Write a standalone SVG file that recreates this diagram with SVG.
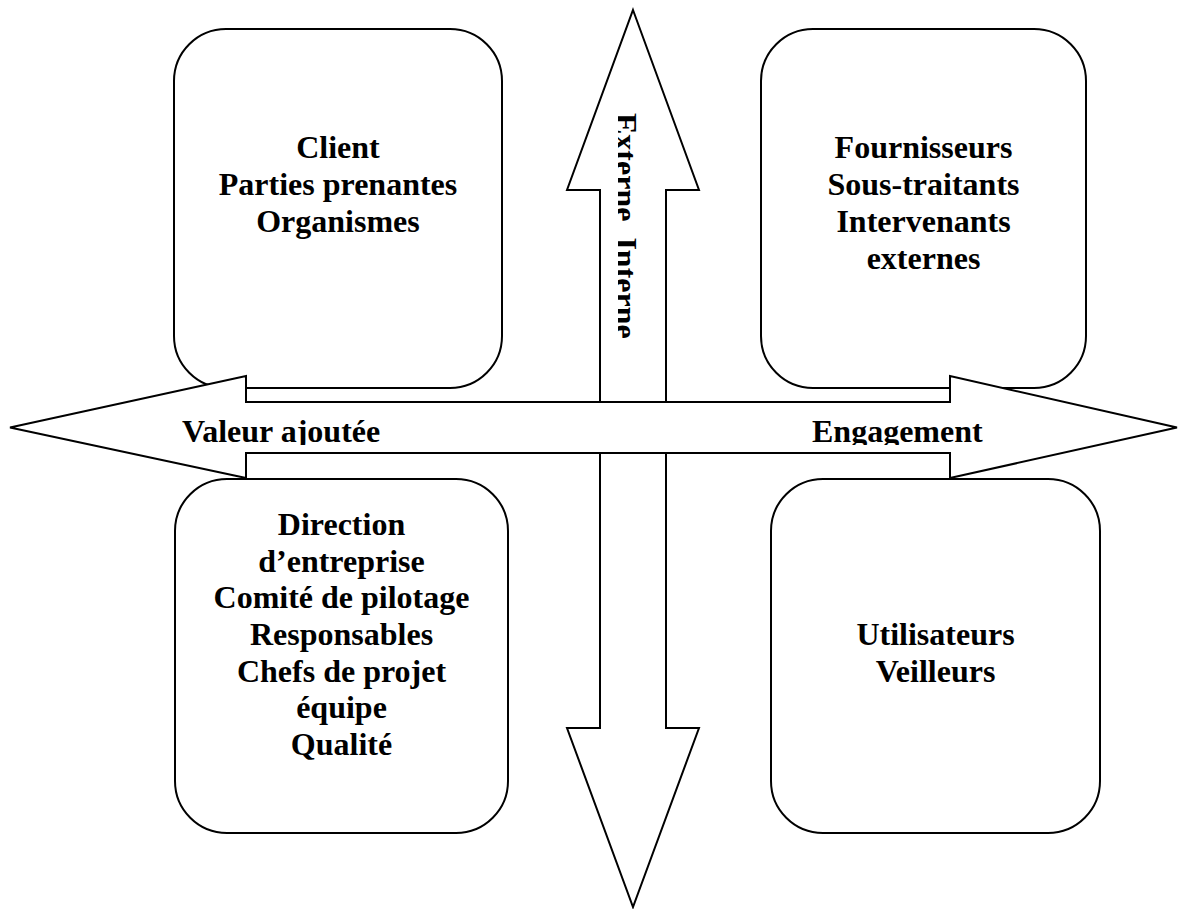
<svg xmlns="http://www.w3.org/2000/svg" width="1178" height="909" viewBox="0 0 1178 909">
  <style>
    .box { fill: #ffffff; stroke: #000000; stroke-width: 2; }
    .arrow { fill: #ffffff; stroke: #000000; stroke-width: 2; stroke-linejoin: miter; }
    .lbl { font-family: "Liberation Serif", "Times New Roman", serif; font-weight: bold; font-size: 32px; fill: #000000; }
    .mid { text-anchor: middle; }
  </style>
  <defs>
    <!-- the axis labels sit in text frames slightly too small for them -->
    <clipPath id="clipH">
      <rect x="0" y="380" width="1178" height="65"/>
    </clipPath>
    <clipPath id="clipV">
      <rect x="618" y="0" width="80" height="420"/>
    </clipPath>
  </defs>
  <rect width="1178" height="909" fill="#ffffff"/>

  <!-- quadrant boxes -->
  <g id="node-client">
    <rect class="box" x="174" y="29" width="328" height="359" rx="52" ry="52"/>
    <text class="lbl mid" x="338" y="158">Client</text>
    <text class="lbl mid" x="338" y="195">Parties prenantes</text>
    <text class="lbl mid" x="338" y="232">Organismes</text>
  </g>

  <g id="node-fournisseurs">
    <rect class="box" x="761" y="29" width="325" height="359" rx="52" ry="52"/>
    <text class="lbl mid" x="923.5" y="158">Fournisseurs</text>
    <text class="lbl mid" x="923.5" y="195">Sous-traitants</text>
    <text class="lbl mid" x="923.5" y="232">Intervenants</text>
    <text class="lbl mid" x="923.5" y="269">externes</text>
  </g>

  <g id="node-direction">
    <rect class="box" x="175" y="479" width="333" height="354" rx="52" ry="52"/>
    <text class="lbl mid" x="341.5" y="535">Direction</text>
    <text class="lbl mid" x="341.5" y="572">d’entreprise</text>
    <text class="lbl mid" x="341.5" y="608">Comité de pilotage</text>
    <text class="lbl mid" x="341.5" y="645">Responsables</text>
    <text class="lbl mid" x="341.5" y="682">Chefs de projet</text>
    <text class="lbl mid" x="341.5" y="718">équipe</text>
    <text class="lbl mid" x="341.5" y="755">Qualité</text>
  </g>

  <g id="node-utilisateurs">
    <rect class="box" x="771" y="479" width="329" height="354" rx="52" ry="52"/>
    <text class="lbl mid" x="935.5" y="645">Utilisateurs</text>
    <text class="lbl mid" x="935.5" y="682">Veilleurs</text>
  </g>

  <!-- axis arrows: vertical drawn first, horizontal laid over it -->
  <g id="connectors">
    <polygon class="arrow" points="633,10 699,190 666,190 666,728 699,728 633,907 567,728 600,728 600,190 567,190"/>
    <g clip-path="url(#clipV)">
      <text class="lbl" transform="translate(615,113) rotate(90)" style="white-space: pre" xml:space="preserve">Externe  Interne</text>
    </g>
    <polygon class="arrow" points="10,427.5 246,376 246,402 950,402 950,376 1177,427.5 950,478 950,453 246,453 246,478"/>
    <g clip-path="url(#clipH)">
      <text class="lbl" x="182" y="442">Valeur ajoutée</text>
      <text class="lbl" x="812" y="442">Engagement</text>
    </g>
  </g>
</svg>
